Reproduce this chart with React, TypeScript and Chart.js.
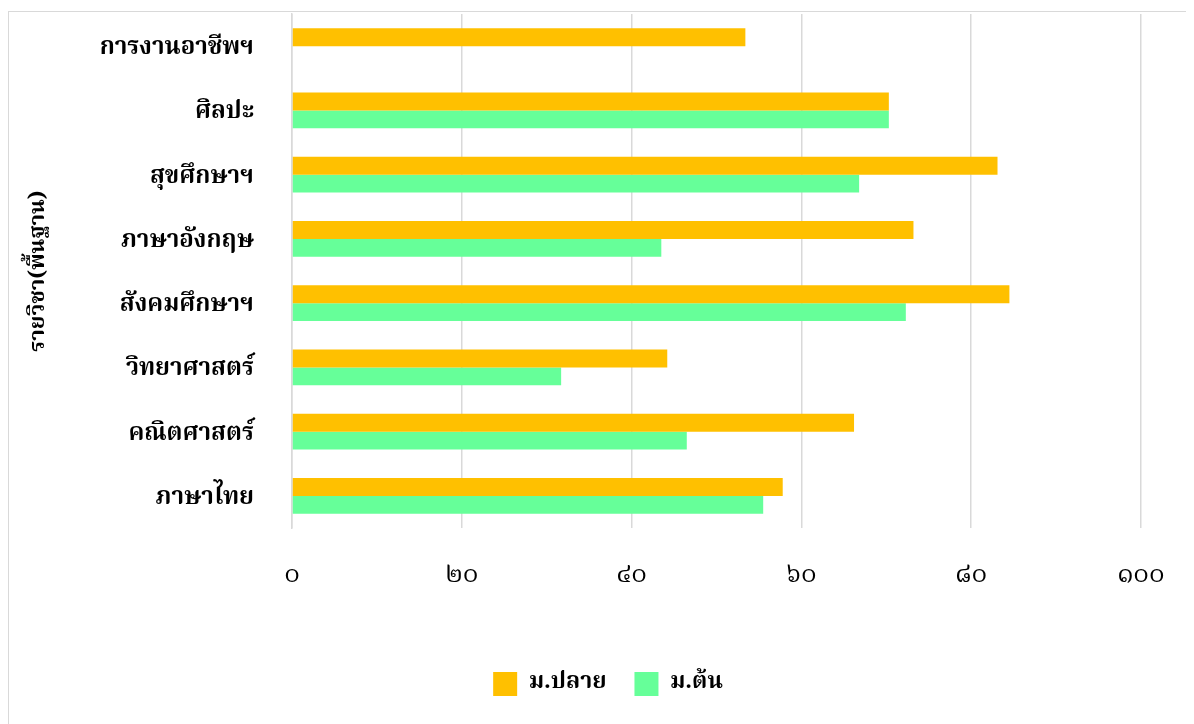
import React, { useEffect, useRef } from "react";
import { Chart, registerables } from "chart.js";

Chart.register(...registerables);

const categories = [
  "การงานอาชีพฯ",
  "ศิลปะ",
  "สุขศึกษาฯ",
  "ภาษาอังกฤษ",
  "สังคมศึกษาฯ",
  "วิทยาศาสตร์",
  "คณิตศาสตร์",
  "ภาษาไทย",
];
const seniorLabel = "ม.ปลาย";
const juniorLabel = "ม.ต้น";
const seniorValues = [53.4, 70.3, 83.1, 73.2, 84.5, 44.2, 66.2, 57.8];
const juniorValues: (number | null)[] = [null, 70.3, 66.8, 43.5, 72.3, 31.7, 46.5, 55.5];
const axisTitle = "รายวิชา(พื้นฐาน)";
const thaiDigits = "๐๑๒๓๔๕๖๗๘๙";

const FONT =
  "'Angsana New', 'TH Sarabun New', Norasi, 'Noto Serif Thai', 'Noto Sans Thai Looped', 'Liberation Serif', 'DejaVu Serif', serif";

export default function App() {
  const ref = useRef<HTMLCanvasElement | null>(null);
  useEffect(() => {
    document.documentElement.style.overflow = "hidden";
    document.body.style.overflow = "hidden";
    const ctx = ref.current!;
    const chart = new Chart(ctx, {
      type: "bar",
      data: {
        labels: categories,
        datasets: [
          {
            label: seniorLabel,
            data: seniorValues,
            backgroundColor: "#FFC000",
            borderWidth: 0,
          },
          {
            label: juniorLabel,
            data: juniorValues,
            backgroundColor: "#66FF99",
            borderWidth: 0,
          },
        ],
      },
      options: {
        indexAxis: "y",
        animation: false,
        responsive: false,
        maintainAspectRatio: false,
        layout: { padding: { left: 14, top: 2, right: 14, bottom: 10 } },
        datasets: {
          bar: { categoryPercentage: 0.56, barPercentage: 1 },
        },
        scales: {
          x: {
            min: 0,
            max: 100,
            ticks: {
              stepSize: 20,
              padding: 34,
              color: "#000",
              font: { family: FONT, size: 26 },
              callback: (v: any) => String(v).replace(/\d/g, (d) => thaiDigits[+d]),
              maxRotation: 0,
            },
            grid: { color: "#d9d9d9", lineWidth: 1.5, drawTicks: false },
            border: { display: false },
            afterFit: (s: any) => {
              s.height = 116;
              s.paddingLeft = 0;
              s.paddingRight = 0;
            },
          },
          y: {
            ticks: {
              padding: 38,
              labelOffset: 4,
              color: "#000",
              font: { family: FONT, size: 24, weight: "bold" },
            },
            grid: { display: false, drawTicks: false },
            border: { display: true, color: "#d9d9d9", width: 1.5 },
            title: {
              display: true,
              text: axisTitle,
              color: "#000",
              font: { family: FONT, size: 22, weight: "bold" },
              padding: 4,
            },
            afterFit: (s: any) => {
              s.width = 283 - 14;
              s.paddingTop = 0;
              s.paddingBottom = 0;
            },
          },
          spacer: {
            type: "linear",
            position: "right",
            ticks: { display: false },
            grid: { display: false, drawTicks: false },
            border: { display: false },
            afterFit: (s: any) => {
              s.width = 52;
              s.paddingTop = 0;
              s.paddingBottom = 0;
            },
          },
        },
        plugins: {
          legend: {
            position: "bottom",
            labels: {
              boxWidth: 24,
              boxHeight: 24,
              padding: 28,
              color: "#000",
              font: { family: FONT, size: 23, weight: "bold" },
            },
          },
          tooltip: { enabled: false },
        },
      },
    });
    return () => chart.destroy();
  }, []);
  return (
    <div style={{ width: 1186, height: 716, overflow: "hidden", marginTop: 3 }}>
      <div
        style={{
          width: 1198,
          height: 730,
          border: "1.5px solid #d9d9d9",
          boxSizing: "content-box",
          background: "#fff",
        }}
      >
        <canvas ref={ref} width={1198} height={704} style={{ display: "block" }} />
      </div>
    </div>
  );
}
